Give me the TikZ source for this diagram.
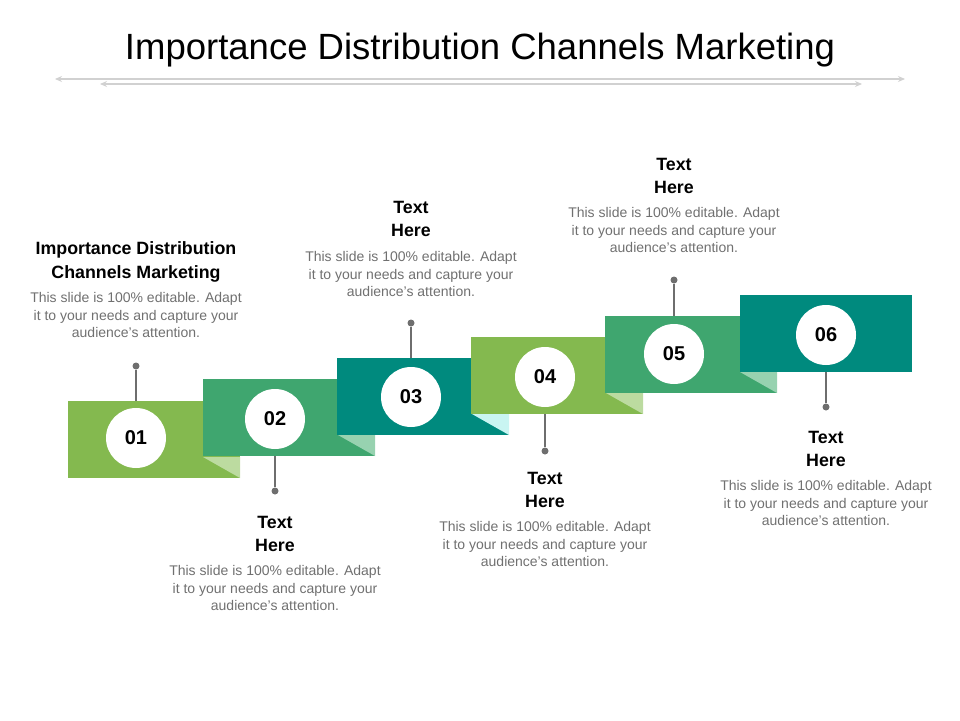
\documentclass[tikz,border=0pt]{standalone}
\usepackage{fontspec}
\setmainfont{Liberation Sans}
\usetikzlibrary{arrows.meta}
\definecolor{cA}{HTML}{84B94F}\definecolor{cB}{HTML}{3FA66F}\definecolor{cC}{HTML}{008A7E}
\definecolor{lA}{HTML}{BCDBA0}\definecolor{lB}{HTML}{97D2B0}\definecolor{lC}{HTML}{C9F5F2}
\definecolor{txt}{HTML}{707070}\definecolor{pin}{HTML}{6E6E6E}
\begin{document}
\begin{tikzpicture}[x=1pt,y=-1pt,
  num/.style={circle,fill=white,minimum size=60pt,inner sep=0pt,font=\fontsize{20}{20}\selectfont\bfseries},
  head/.style={align=center,font=\fontsize{17.8}{23.5}\selectfont\bfseries},
  body/.style={align=center,text=txt,font=\fontsize{14}{17.5}\selectfont},
  pinline/.style={draw=pin,line width=1.2pt},
  dot/.style={circle,fill=pin,inner sep=0pt,minimum size=7pt}]
\useasboundingbox (0,0) rectangle (960,720);
\node[font=\fontsize{36.5}{36.5}\selectfont] (title) at (480,50) {Importance Distribution Channels Marketing};
\coordinate (a1) at (55,79);\coordinate (a2) at (905,79);
\coordinate (b1) at (100,84);\coordinate (b2) at (862,84);
\draw[black!18,line width=1.2pt,{Stealth[length=7pt,width=6pt]}-{Stealth[length=7pt,width=6pt]}] (a1) -- (a2);
\draw[black!18,line width=1.2pt,{Stealth[length=7pt,width=6pt]}-{Stealth[length=7pt,width=6pt]}] (b1) -- (b2);
% steps
\foreach \x/\y/\c/\l in {68/401/cA/lA,203/379/cB/lB,337/358/cC/lC,471/337/cA/lA,605/316/cB/lB} {
  \fill[\c] (\x,\y) rectangle ++(172,77);
  \fill[\l] (\x+135,\y+56) -- (\x+172,\y+56) -- (\x+172,\y+77) -- cycle;
}
\fill[cC] (740,295) rectangle ++(172,77);
% pins
\node[dot] (d1) at (136,366) {}; \draw[pinline] (d1) -- (136,401);
\node[dot] (d3) at (411,323) {}; \draw[pinline] (d3) -- (411,358);
\node[dot] (d5) at (674,280) {}; \draw[pinline] (d5) -- (674,316);
\node[dot] (d2) at (275,491) {}; \draw[pinline] (d2) -- (275,456);
\node[dot] (d4) at (545,451) {}; \draw[pinline] (d4) -- (545,414);
\node[dot] (d6) at (826,407) {}; \draw[pinline] (d6) -- (826,372);
% circles
\node[num] (n1) at (136,438) {01};
\node[num] (n2) at (275,419) {02};
\node[num] (n3) at (411,397) {03};
\node[num] (n4) at (545,377) {04};
\node[num] (n5) at (674,354) {05};
\node[num] (n6) at (826,335) {06};
% texts
\node[head] (h1) at (136,262) {Importance Distribution\\Channels Marketing};
\node[body] (t1) at (136,315) {This slide is 100\% editable. Adapt\\it to your needs and capture your\\audience's attention.};
\node[head] (h3) at (411,219) {Text\\Here};
\node[body] (t3) at (411,274) {This slide is 100\% editable. Adapt\\it to your needs and capture your\\audience's attention.};
\node[head] (h5) at (674,176) {Text\\Here};
\node[body] (t5) at (674,230) {This slide is 100\% editable. Adapt\\it to your needs and capture your\\audience's attention.};
\node[head] (h2) at (275,534) {Text\\Here};
\node[body] (t2) at (275,588) {This slide is 100\% editable. Adapt\\it to your needs and capture your\\audience's attention.};
\node[head] (h4) at (545,490) {Text\\Here};
\node[body] (t4) at (545,544) {This slide is 100\% editable. Adapt\\it to your needs and capture your\\audience's attention.};
\node[head] (h6) at (826,449) {Text\\Here};
\node[body] (t6) at (826,503) {This slide is 100\% editable. Adapt\\it to your needs and capture your\\audience's attention.};
\end{tikzpicture}
\end{document}
